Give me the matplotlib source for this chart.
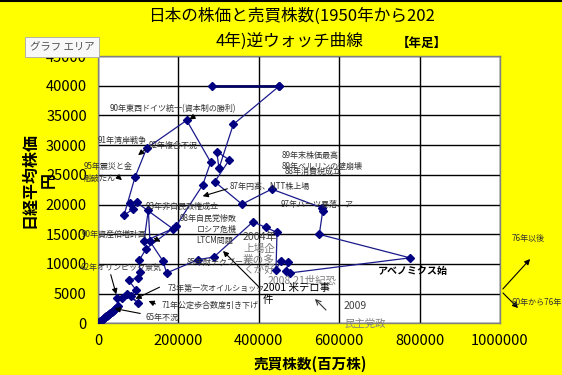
import matplotlib
matplotlib.use('Agg')
import matplotlib.pyplot as plt
from matplotlib.lines import Line2D

plt.rcParams['font.family'] = ['Noto Sans CJK JP', 'DejaVu Sans']

# 売買株数(百万株) と 日経平均株価(円), 1950年から2024年の順
vol = [600, 1800, 3500, 5300, 7100, 9500, 11900, 14900, 17300, 20200,
       23200, 25600, 28600, 31000, 33900, 36900, 39900, 42900, 46400, 50000,
       48500, 59700, 71400, 98800, 82100, 94500, 75900, 100200, 104500, 102700,
       119400, 194000, 260400, 280300, 220600, 121100, 92000, 64700, 86300, 79600,
       96300, 185800, 114400, 125100, 129400, 160900, 170900, 249500, 288000, 385600,
       416700, 445300, 442800, 454000, 473400, 467700, 477600, 776100, 550500, 559000,
       556500, 432100, 358200, 290300, 326600, 295300, 301000, 336600, 450300]
price = [100, 160, 260, 320, 430, 540, 720, 830, 1010, 1180,
         1290, 1470, 1580, 1760, 1880, 2060, 2240, 2380, 2660, 2930,
         4290, 4200, 4880, 3490, 4630, 5640, 7250, 7680, 8700, 10610,
         12540, 16370, 23270, 27120, 34170, 29490, 24580, 18190, 19200, 20220,
         20340, 15930, 13780, 19090, 13780, 10560, 8480, 10730, 11150, 17090,
         16150, 15310, 8950, 10510, 10270, 8750, 8480, 11020, 14970, 18920,
         19460, 22590, 20050, 23830, 27510, 28920, 26100, 33490, 39900]

# 1989年の最高値と2024年を結ぶ線
peak_vol = [283600, 450300]
peak_price = [39900, 39900]

x_ticks = [0, 200000, 400000, 600000, 800000, 1000000]
y_ticks = [0, 5000, 10000, 15000, 20000, 25000, 30000, 35000, 40000, 45000]

W, H = 562, 375


def fp(x, y):
    # 画像のピクセル位置 -> figure fraction
    return (x / W, 1 - y / H)


fig = plt.figure(figsize=(W / 100, H / 100), dpi=100, facecolor='#FFFF00')
ax = fig.add_axes([98 / W, 1 - 323.3 / H, 402 / W, (323.3 - 56) / H])
ax.set_facecolor('white')

ax.plot(vol, price, color='#1a1a8c', lw=0.9, marker='D', markersize=3.7,
        markerfacecolor='#000080', markeredgecolor='#000080', zorder=3)
ax.plot(peak_vol, peak_price, color='#000060', lw=2.0, marker='D', markersize=3.7,
        markerfacecolor='#000080', markeredgecolor='#000080', zorder=3)

ax.set_xlim(0, 1000000)
ax.set_ylim(0, 45000)
ax.set_xticks(x_ticks)
ax.set_yticks(y_ticks)
ax.set_xticklabels([str(v) for v in x_ticks], fontsize=10.5)
ax.set_yticklabels([str(v) for v in y_ticks], fontsize=10.5)
ax.tick_params(length=0, pad=8)
ax.tick_params(axis='x', pad=8)
ax.grid(True, color='black', lw=1.0)
ax.set_axisbelow(True)
for s in ax.spines.values():
    s.set_color('#808080')
    s.set_linewidth(1.0)

# タイトル
fig.text(*fp(291, 16), '日本の株価と売買株数(1950年から202', fontsize=12,
         ha='center', va='center')
fig.text(*fp(290, 41), '4年)逆ウォッチ曲線', fontsize=12, ha='center', va='center')
fig.text(*fp(422, 43), '【年足】', fontsize=9, ha='center', va='center', weight='bold')

# 軸ラベル
fig.text(*fp(310, 364), '売買株数(百万株)', fontsize=10.5, weight='bold',
         ha='center', va='center')
fig.text(*fp(39, 180), '日経平均株価\n円', fontsize=11.5, weight='bold',
         rotation=90, ha='center', va='center', linespacing=1.3)

# 注釈(小さい文字)
small = dict(fontsize=5.8, color='#333333', va='center', ha='left')
notes = [
    (110, 109, '90年東西ドイツ統一(資本制の勝利)'),
    (98, 140, '91年湾岸戦争'),
    (149, 145, '92年複合不況'),
    (84, 167, '95年震災と金'),
    (84, 178, '融破たん'),
    (282, 156, '89年末株価最高'),
    (282, 166, '89年ベルリンの壁崩壊'),
    (285, 171, '88年消費税成立'),
    (230, 186, '87年円高、NTT株上場'),
    (281, 204, '97年バーツ暴落、ア'),
    (146, 206, '93年非自民政権成立'),
    (180, 218, '98年自民党惨敗'),
    (197, 229, 'ロシア危機'),
    (196, 240, 'LTCM問題'),
    (82, 234, '90年資産倍増計画'),
    (187, 262, '85年財テクブーム'),
    (80, 267, '62年オリンピック景気'),
    (168, 289, '73年第一次オイルショック'),
    (162, 305, '71年公定歩合数度引き下げ'),
    (145, 317, '65年不況'),
    (512, 239, '76年以後'),
    (512, 302, '60年から76年'),
]
for x, y, t in notes:
    fig.text(*fp(x, y), t, **small)

arrows = [
    ((198, 114), (187, 121)),
    ((147, 148), (136, 157)),
    ((116, 175), (124, 182)),
    ((230, 188), (200, 197)),
    ((152, 237), (163, 243)),
    ((110, 272), (117, 297)),
    ((162, 286), (133, 300)),
    ((158, 305), (146, 300)),
    ((143, 314), (112, 308)),
    ((262, 290), (221, 249)),
    ((501, 291), (532, 257)),
    ((501, 291), (520, 310)),
]
for tail, tip in arrows:
    ax.annotate('', xy=fp(*tip), xytext=fp(*tail), xycoords='figure fraction',
                textcoords='figure fraction',
                arrowprops=dict(arrowstyle='-|>', color='black', lw=0.8,
                                mutation_scale=8))
ax.annotate('', xy=fp(313, 297), xytext=fp(328, 312), xycoords='figure fraction',
            textcoords='figure fraction',
            arrowprops=dict(arrowstyle='->', color='#333333', lw=0.8, mutation_scale=9))

# 大きめの文字
fig.text(*fp(243, 237), '2004年', fontsize=7.7, color='#444444', va='center')
fig.text(*fp(243, 248.5), '上場企', fontsize=7.7, color='#808080', va='center')
fig.text(*fp(243, 259.5), '業の多', fontsize=7.7, color='#808080', va='center')
fig.text(*fp(243, 270), 'くが好', fontsize=7.7, color='#808080', va='center')
fig.text(*fp(268, 280), '2008,21世紀恐', fontsize=7.5, color='#808080', va='center')
fig.text(*fp(263, 288), '2001 米テロ事', fontsize=7.5, color='black', va='center')
fig.text(*fp(263, 300), '件', fontsize=7.5, color='black', va='center')
fig.text(*fp(344, 306), '2009', fontsize=7.5, color='#404040', va='center')
fig.text(*fp(344, 324), '民主党政', fontsize=7.5, color='#808080', va='center')
fig.text(*fp(378, 271), 'アベノミクス始', fontsize=7.2, color='black',
         weight='bold', va='center')

# グラフ エリア の表示
fig.text(*fp(62, 47), 'グラフ エリア', fontsize=7.5, color='#505050',
         ha='center', va='center', zorder=10,
         bbox=dict(boxstyle='square,pad=0.45', fc='#f8f8f8', ec='#a8a8a8', lw=0.6))

fig.add_artist(Line2D([0, 1], [0.998, 0.998], color='black', lw=1.5,
                      transform=fig.transFigure))

fig.savefig('out.png', dpi=100, facecolor=fig.get_facecolor())
